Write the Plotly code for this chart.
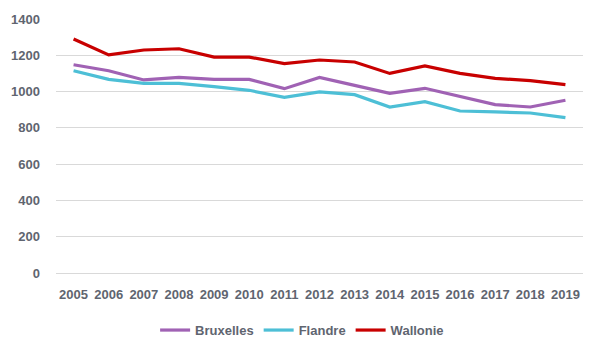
import plotly.graph_objects as go

years = [str(y) for y in range(2005, 2020)]
bruxelles = [1148, 1115, 1064, 1078, 1067, 1067, 1016, 1078, 1034, 990, 1018, 972, 928, 915, 952]
flandre = [1115, 1067, 1045, 1045, 1027, 1007, 968, 998, 983, 915, 944, 893, 888, 882, 856]
wallonie = [1290, 1202, 1229, 1236, 1190, 1190, 1154, 1174, 1163, 1100, 1141, 1100, 1073, 1060, 1038]

series = [("Bruxelles", bruxelles, "#A062B4"), ("Flandre", flandre, "#4DBFD6"), ("Wallonie", wallonie, "#C80000")]

fig = go.Figure()
for name, vals, col in series:
    fig.add_trace(go.Scatter(x=years, y=vals, name=name, mode="lines",
                             line=dict(color=col, width=3.2)))

font = dict(family="Liberation Sans, Arial, sans-serif", size=13, color="#5f6570", weight="bold")
fig.update_layout(
    width=600, height=356,
    margin=dict(l=56, r=17, t=19, b=82),
    paper_bgcolor="white", plot_bgcolor="white",
    font=font,
    showlegend=True,
    legend=dict(orientation="h", x=0.467, xanchor="center", y=-0.22, yanchor="middle",
                font=font, tracegroupgap=0),
    xaxis=dict(type="category", range=[-0.5, 14.5], showgrid=False, showline=False, ticks="",
               tickfont=font, ticklabelstandoff=12),
    yaxis=dict(range=[0, 1400], dtick=200, showgrid=True, gridcolor="#d9d9d9", gridwidth=1.3,
               zeroline=True, zerolinecolor="#d9d9d9", zerolinewidth=1.3, ticks="", tickfont=font,
               ticklabelstandoff=15),
)
fig.write_html("out.html", config={"displayModeBar": False},
               post_script="document.body.style.margin='0';")
